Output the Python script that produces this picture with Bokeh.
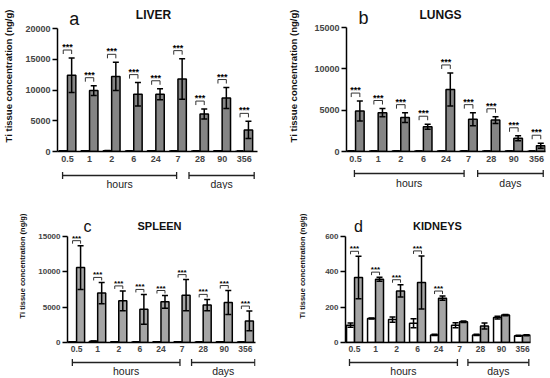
import numpy as np
from bokeh.plotting import figure
from bokeh.models import (Range1d, FixedTicker, ColumnDataSource, Whisker, TeeHead,
                          Label, LabelSet)
from bokeh.layouts import column, row
from bokeh.embed import file_html
from bokeh.resources import INLINE
from bokeh.core.properties import value

# ---------------- data ----------------
categories = ["0.5", "1", "2", "6", "24", "7", "28", "90", "356"]
period_labels = ["hours", "days"]
y_label = "Ti tissue concentration (ng/g)"

liver_control = [120, 110, 130, 100, 110, 100, 90, 110, 60]
liver_control_sd = [20, 20, 20, 20, 20, 20, 20, 20, 10]
liver_treated = [12400, 9900, 12200, 9300, 9300, 11800, 6100, 8700, 3500]
liver_treated_sd = [2800, 800, 2300, 1900, 900, 3300, 800, 1700, 1400]
liver_sig = ["***", "***", "***", "***", "***", "***", "***", "***", "***"]

lungs_control = [60, 60, 60, 50, 60, 70, 50, 50, 40]
lungs_control_sd = [10, 10, 10, 10, 10, 10, 10, 10, 10]
lungs_treated = [4900, 4700, 4100, 3000, 7500, 3900, 3800, 1600, 700]
lungs_treated_sd = [1200, 500, 600, 300, 2000, 800, 400, 300, 300]
lungs_sig = ["***", "***", "***", "***", "***", "***", "***", "***", "***"]

spleen_control = [100, 180, 100, 80, 90, 90, 80, 90, 60]
spleen_control_sd = [20, 30, 20, 20, 20, 20, 20, 20, 10]
spleen_treated = [10600, 7000, 5900, 4700, 5750, 6700, 5300, 5650, 3050]
spleen_treated_sd = [3100, 1500, 1400, 2100, 900, 2200, 800, 1700, 1400]
spleen_sig = ["***", "***", "***", "***", "***", "***", "***", "***", "***"]

kidneys_control = [98, 136, 130, 109, 43, 98, 43, 141, 38]
kidneys_control_sd = [12, 3, 15, 25, 4, 14, 3, 8, 3]
kidneys_treated = [368, 358, 292, 340, 251, 117, 94, 155, 41]
kidneys_treated_sd = [120, 12, 35, 150, 12, 4, 17, 4, 3]
kidneys_sig = ["***", "***", "***", "***", "***", "", "", "", ""]

FONT = "Liberation Sans"

# ---------------- panel styles (layout only) ----------------
# w: width; hm: main figure height; hb: bracket strip height
# bl/br: left/right borders; top: px from figure top to ymax; bb: px below zero in main fig
styles = {
    "a": dict(w=275, hm=169, hb=20, bl=55, br=18, top=28, bb=18, xr=(-0.45, 8.6), ymax=20000,
              yticks=[0, 5000, 10000, 15000, 20000], fill="#858585", ylab="9.5px", ylab_so=8,
              ytick="9px", xtick="9px", xso=4, star="9px", gap=8, tk=4,
              spans=[(-0.22, 4.94), (5.5, 8.45)], brk=6, lab=14,
              let_dx=17, let_dy=10, org_dx=97, org_dy=14, let_size="18px", org_size="12px"),
    "b": dict(w=275, hm=169, hb=20, bl=71, br=5, top=27, bb=18, xr=(-0.40, 8.4), ymax=15000,
              yticks=[0, 5000, 10000, 15000], fill="#858585", ylab="9.5px", ylab_so=12,
              ytick="9px", xtick="9px", xso=4, star="9px", gap=8, tk=4,
              spans=[(-0.05, 4.8), (5.4, 8.3)], brk=4, lab=13,
              let_dx=17, let_dy=10, org_dx=94, org_dy=13, let_size="18px", org_size="12px"),
    "c": dict(w=275, hm=168, hb=21, bl=67, br=20, top=47, bb=15, xr=(-0.43, 8.48), ymax=15000,
              yticks=[0, 5000, 10000, 15000], fill="#a5a5a5", ylab="7.5px", ylab_so=8,
              ytick="8px", xtick="8.5px", xso=3, star="8px", gap=5, tk=3,
              spans=[(-0.2, 4.9), (5.45, 8.45)], brk=5, lab=13,
              let_dx=20, let_dy=10, org_dx=92, org_dy=11, let_size="16px", org_size="11px"),
    "d": dict(w=275, hm=168, hb=21, bl=70, br=20, top=47, bb=15, xr=(-0.43, 8.38), ymax=600,
              yticks=[0, 200, 400, 600], fill="#a5a5a5", ylab="7.5px", ylab_so=15,
              ytick="8px", xtick="8.5px", xso=3, star="8px", gap=5, tk=3,
              spans=[(-0.24, 4.9), (5.4, 8.3)], brk=5, lab=13,
              let_dx=13, let_dy=10, org_dx=92, org_dy=11, let_size="16px", org_size="11px"),
}


def make_panel(letter, organ, ctrl, ctrl_sd, trt, trt_sd, sig):
    st = styles[letter]
    ymax = st["ymax"]
    x0, x1 = st["xr"]
    fh_total = st["hm"] - st["bb"]
    fh = fh_total - st["top"]
    y_end = ymax * fh_total / fh
    xr = Range1d(x0, x1)
    p = figure(width=st["w"], height=st["hm"], x_range=xr,
               y_range=Range1d(0, y_end), output_backend="svg", toolbar_location=None,
               min_border_left=st["bl"], min_border_right=st["br"],
               min_border_top=0, min_border_bottom=st["bb"])
    fw = st["w"] - st["bl"] - st["br"]
    ux = (x1 - x0) / fw
    uy = ymax / fh

    n = len(categories)
    idx = np.arange(n)
    hw = 0.19
    ctrl = np.array(ctrl, float)
    ctrl_sd = np.array(ctrl_sd, float)
    trt = np.array(trt, float)
    trt_sd = np.array(trt_sd, float)
    src = ColumnDataSource(dict(
        xc=idx - hw, xt=idx + hw, ctrl=ctrl, trt=trt,
        cl=np.maximum(ctrl - ctrl_sd, 0), cu=ctrl + ctrl_sd,
        tl=np.maximum(trt - trt_sd, 0), tu=trt + trt_sd))

    p.vbar(x="xc", top="ctrl", width=2 * hw, source=src, fill_color="white",
           line_color="black", line_width=1.5)
    p.vbar(x="xt", top="trt", width=2 * hw, source=src, fill_color=st["fill"],
           line_color="black", line_width=1.5)

    for base, lo, up in (("xc", "cl", "cu"), ("xt", "tl", "tu")):
        p.add_layout(Whisker(base=base, lower=lo, upper=up, source=src, line_width=1.5,
                             line_color="black", level="overlay",
                             upper_head=TeeHead(size=6, line_width=1.5, line_color="black"),
                             lower_head=TeeHead(size=6, line_width=1.5, line_color="black")))

    # significance brackets
    sel = [i for i in range(n) if sig[i]]
    if sel:
        yb = [trt[i] + trt_sd[i] + st["gap"] * uy for i in sel]
        xs = [[i - hw, i - hw, i + hw, i + hw] for i in sel]
        ys = [[y - st["tk"] * uy, y, y, y - st["tk"] * uy] for y in yb]
        p.multi_line(xs=xs, ys=ys, line_color="#333333", line_width=1)
        ssrc = ColumnDataSource(dict(x=[float(i) for i in sel], y=yb, t=[sig[i] for i in sel]))
        p.add_layout(LabelSet(x="x", y="y", text="t", source=ssrc, text_align="center",
                              text_baseline="alphabetic",
                              text_font=value(FONT), text_font_size=value(st["star"]),
                              text_font_style="bold", text_color="black"))

    # titles (inside the extended frame, above ymax)
    p.add_layout(Label(x=x0 + st["let_dx"] * ux, y=ymax + st["let_dy"] * uy, text=letter,
                       text_align="center", text_baseline="alphabetic", text_font=FONT,
                       text_font_size=st["let_size"], text_color="#111111"))
    p.add_layout(Label(x=x0 + st["org_dx"] * ux, y=ymax + st["org_dy"] * uy, text=organ,
                       text_align="center", text_baseline="alphabetic", text_font=FONT,
                       text_font_size=st["org_size"], text_font_style="bold",
                       text_color="#111111"))

    # axes
    p.grid.visible = False
    p.outline_line_color = None

    p.xaxis.ticker = FixedTicker(ticks=list(range(n)))
    p.xaxis.major_label_overrides = {i: c for i, c in enumerate(categories)}
    p.xaxis.major_tick_line_color = None
    p.xaxis.major_tick_out = 0
    p.xaxis.major_tick_in = 0
    p.xaxis.minor_tick_line_color = None
    p.xaxis.major_label_standoff = st["xso"]
    p.xaxis.major_label_text_font = FONT
    p.xaxis.major_label_text_font_size = st["xtick"]
    p.xaxis.major_label_text_font_style = "bold"
    p.xaxis.axis_line_width = 1.5
    p.xaxis.axis_line_color = "black"

    p.yaxis.bounds = (0, ymax)
    p.yaxis.ticker = FixedTicker(ticks=st["yticks"])
    p.yaxis.major_tick_out = 5
    p.yaxis.major_tick_in = 0
    p.yaxis.major_tick_line_width = 1.5
    p.yaxis.minor_tick_line_color = None
    p.yaxis.major_label_standoff = 2
    p.yaxis.major_label_text_font = FONT
    p.yaxis.major_label_text_font_size = st["ytick"]
    p.yaxis.major_label_text_font_style = "bold"
    p.yaxis.axis_line_width = 1.5
    p.yaxis.axis_line_color = "black"
    p.yaxis.axis_label = y_label
    p.yaxis.axis_label_text_font = FONT
    p.yaxis.axis_label_text_font_size = st["ylab"]
    p.yaxis.axis_label_text_font_style = "bold"
    p.yaxis.axis_label_text_color = "#111111"
    p.yaxis.axis_label_standoff = st["ylab_so"]

    # strip below the axis with the hours / days brackets
    hb = st["hb"]
    q = figure(width=st["w"], height=hb, x_range=xr, y_range=Range1d(-hb, 0),
               x_axis_location=None, y_axis_location=None, output_backend="svg",
               toolbar_location=None, min_border_left=st["bl"], min_border_right=st["br"],
               min_border_top=0, min_border_bottom=0)
    q.grid.visible = False
    q.outline_line_color = None
    bsrc = ColumnDataSource(dict(
        y=[-st["brk"]] * 2,
        lo=[s[0] for s in st["spans"]], hi=[s[1] for s in st["spans"]],
        mid=[(s[0] + s[1]) / 2 for s in st["spans"]],
        ly=[-st["lab"]] * 2, t=period_labels))
    q.add_layout(Whisker(base="y", lower="lo", upper="hi", dimension="width", source=bsrc,
                         line_width=1.3, line_color="#222222", level="overlay",
                         upper_head=TeeHead(size=7, line_width=1.3, line_color="#222222"),
                         lower_head=TeeHead(size=7, line_width=1.3, line_color="#222222")))
    q.add_layout(LabelSet(x="mid", y="ly", text="t", source=bsrc, text_align="center",
                          text_baseline="middle", text_font=value(FONT),
                          text_font_size=value("10.5px"), text_color="#222222"))
    return column(p, q)


pa = make_panel("a", "LIVER", liver_control, liver_control_sd, liver_treated,
                liver_treated_sd, liver_sig)
pb = make_panel("b", "LUNGS", lungs_control, lungs_control_sd, lungs_treated,
                lungs_treated_sd, lungs_sig)
pc = make_panel("c", "SPLEEN", spleen_control, spleen_control_sd, spleen_treated,
                spleen_treated_sd, spleen_sig)
pd = make_panel("d", "KIDNEYS", kidneys_control, kidneys_control_sd, kidneys_treated,
                kidneys_treated_sd, kidneys_sig)

layout = column(row(pa, pb), row(pc, pd))
open("out.html", "w").write(file_html(layout, INLINE))
